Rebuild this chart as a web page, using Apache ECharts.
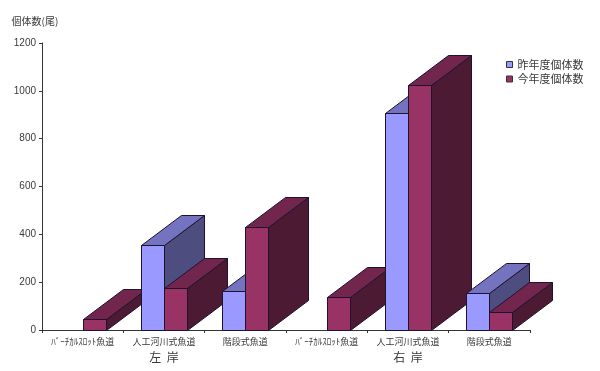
<!DOCTYPE html>
<html><head><meta charset="utf-8">
<style>html,body{margin:0;padding:0;background:#fff}#c{width:600px;height:371px}</style>
<script src="https://cdn.jsdelivr.net/npm/echarts@6/dist/echarts.min.js"></script>
</head><body><div id="c"></div>
<script>
const categories = ['ﾊﾞｰﾁｶﾙｽﾛｯﾄ魚道','人工河川式魚道','階段式魚道','ﾊﾞｰﾁｶﾙｽﾛｯﾄ魚道','人工河川式魚道','階段式魚道'];
const banks = ['左  岸','右  岸'];
const seriesNames = ['昨年度個体数','今年度個体数'];
const lastYear = [null,356,165,null,908,155];
const thisYear = [46,175,430,138,1026,77];

const font = '"Liberation Sans","Noto Sans CJK JP",sans-serif';
const jp = '"Noto Sans CJK JP",sans-serif';
const txt = '#3a3a3a';
const DX = 40, DY = -30;
const styles = [
  {front:'#9999ff', top:'#7373bf', side:'#4d4d80', offset:-1},
  {front:'#993366', top:'#73264d', side:'#4d1a33', offset:0}
];
function render(si){
  return function(params, api){
    const v = api.value(1);
    if (v === null || v === undefined || isNaN(v)) return null;
    const cat = api.value(0);
    const band = api.size([1,0])[0];
    const w = Math.round(band*0.288);
    const c = api.coord([cat,v]);
    const b = api.coord([cat,0]);
    const x0 = Math.round(c[0] + styles[si].offset*w) + 0.5;
    const x1 = x0 + w;
    const yT = Math.round(c[1]) + 0.5, yB = Math.round(b[1]) + 0.5;
    const z2 = cat*2 + si;
    const s = styles[si];
    const line = {stroke:'#1f1230', lineWidth:1};
    const poly = (pts, fill) => ({type:'polygon', z2, shape:{points:pts}, style:Object.assign({fill}, line)});
    return {type:'group', children:[
      poly([[x1,yT],[x1+DX,yT+DY],[x1+DX,yB+DY],[x1,yB]], s.side),
      poly([[x0,yT],[x0+DX,yT+DY],[x1+DX,yT+DY],[x1,yT]], s.top),
      poly([[x0,yT],[x1,yT],[x1,yB],[x0,yB]], s.front)
    ]};
  };
}
const toData = a => a.map((v,i)=>[i,v]);
const chart = echarts.init(document.getElementById('c'),null,{renderer:'canvas'});
chart.setOption({
  animation:false,
  backgroundColor:'#fff',
  grid:{left:42,top:43,width:488,height:287,containLabel:false},
  legend:{
    orient:'vertical',left:501,top:54,itemWidth:6,itemHeight:6,itemGap:3.5,
    icon:'rect',selectedMode:false,
    data:seriesNames,
    textStyle:{fontFamily:jp,fontSize:11,color:txt},
    itemStyle:{borderColor:'#333',borderWidth:1}
  },
  xAxis:[
    {type:'category',data:categories,boundaryGap:true,
     axisLine:{lineStyle:{color:'#333',width:1}},
     axisTick:{show:true,alignWithLabel:false,length:3,lineStyle:{color:'#333'}},
     axisLabel:{interval:0,fontFamily:jp,fontSize:9,color:txt,margin:7}},
    {type:'category',data:banks,position:'bottom',offset:18,
     axisLine:{show:false},axisTick:{show:false},
     axisLabel:{interval:0,fontFamily:jp,fontSize:12,color:txt,margin:3}}
  ],
  yAxis:{type:'value',min:0,max:1200,interval:200,
    name:'個体数(尾)',nameLocation:'end',nameGap:17,
    nameTextStyle:{fontFamily:jp,fontSize:10,color:txt,align:'center',padding:[0,14,0,0]},
    axisLine:{show:true,lineStyle:{color:'#333',width:1}},
    axisTick:{show:true,length:3,lineStyle:{color:'#333'}},
    splitLine:{show:false},
    axisLabel:{fontFamily:font,fontSize:10,color:txt,margin:6,formatter:v=>String(v)}},
  series:[
    {name:seriesNames[0],type:'custom',xAxisIndex:0,yAxisIndex:0,clip:false,
     itemStyle:{color:styles[0].front},encode:{x:0,y:1},
     renderItem:render(0),data:toData(lastYear)},
    {name:seriesNames[1],type:'custom',xAxisIndex:0,yAxisIndex:0,clip:false,
     itemStyle:{color:styles[1].front},encode:{x:0,y:1},
     renderItem:render(1),data:toData(thisYear)}
  ]
});
</script></body></html>
